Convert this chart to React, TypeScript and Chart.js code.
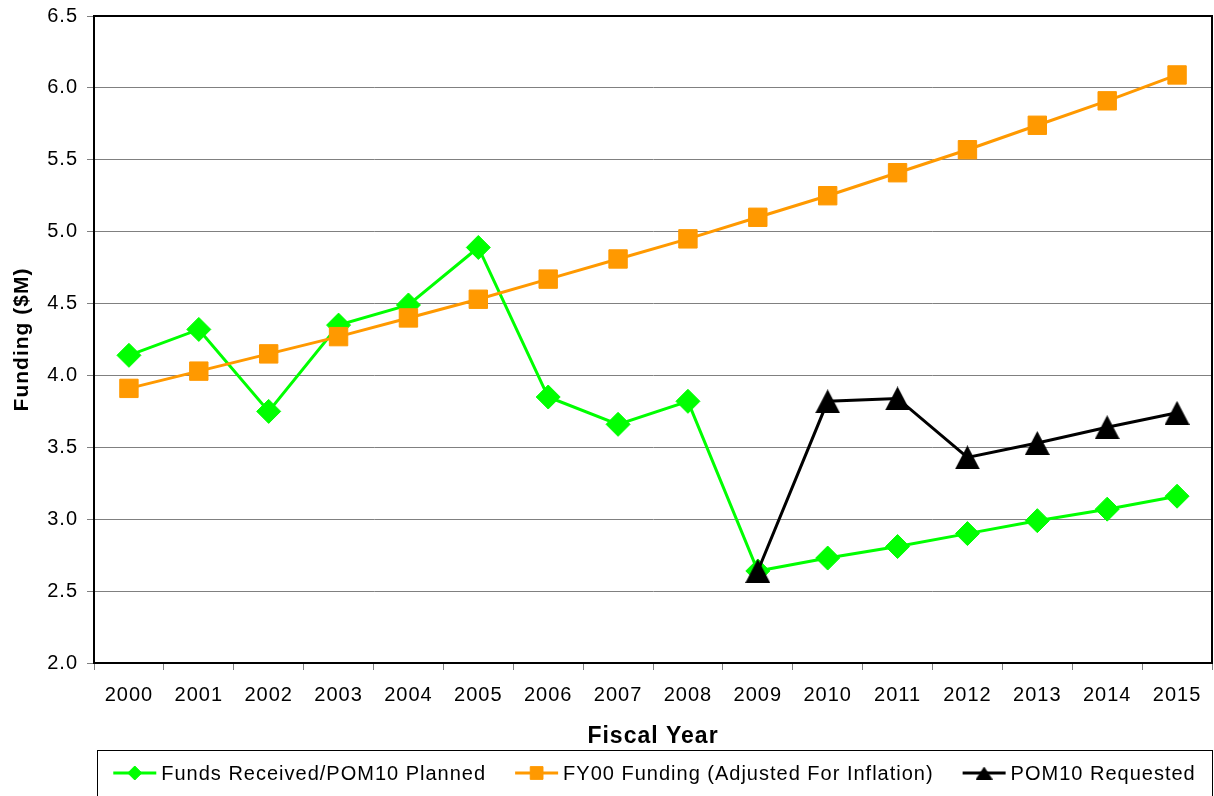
import React, { useEffect, useRef } from "react";
import { Chart, registerables } from "chart.js";
import { drawPoint } from "chart.js/helpers";

Chart.register(...registerables);

const years = ["2000", "2001", "2002", "2003", "2004", "2005", "2006", "2007", "2008", "2009", "2010", "2011", "2012", "2013", "2014", "2015"];
const fundsReceived = [4.14, 4.32, 3.75, 4.35, 4.49, 4.89, 3.85, 3.66, 3.82, 2.64, 2.73, 2.81, 2.9, 2.99, 3.07, 3.16];
const fy00Funding = [3.91, 4.03, 4.15, 4.27, 4.4, 4.53, 4.67, 4.81, 4.95, 5.1, 5.25, 5.41, 5.57, 5.74, 5.91, 6.09];
const pom10Requested = [null, null, null, null, null, null, null, null, null, 2.64, 3.82, 3.84, 3.43, 3.53, 3.64, 3.74];
const yMin = 2.0;
const yMax = 6.5;
const yStep = 0.5;
const seriesLabels = ["Funds Received/POM10 Planned", "FY00 Funding (Adjusted For Inflation)", "POM10 Requested"];

const FAMILY = "'Liberation Sans', Arial, Helvetica, sans-serif";

function makeTriangle(w: number, h: number, color: string): HTMLCanvasElement {
  const c = document.createElement("canvas");
  c.width = w;
  c.height = h;
  const g = c.getContext("2d")!;
  g.fillStyle = color;
  g.beginPath();
  g.moveTo(w / 2, 0);
  g.lineTo(w, h);
  g.lineTo(0, h);
  g.closePath();
  g.fill();
  return c;
}

const framePlugin = {
  id: "frame",
  beforeDraw(chart: any) {
    chart.ctx.letterSpacing = "1px";
  },
  beforeDatasetsDraw(chart: any) {
    const { ctx, chartArea } = chart;
    ctx.save();
    ctx.strokeStyle = "#000";
    ctx.lineWidth = 2;
    ctx.beginPath();
    ctx.moveTo(chartArea.left, chartArea.top);
    ctx.lineTo(chartArea.right, chartArea.top);
    ctx.lineTo(chartArea.right, chartArea.bottom);
    ctx.stroke();
    ctx.restore();
  },
};

const legendPlugin = {
  id: "boxLegend",
  afterDraw(chart: any) {
    const ctx = chart.ctx;
    ctx.save();
    ctx.letterSpacing = "1px";
    const boxLeft = 97;
    const boxTop = 750;
    const boxRight = 1212;
    ctx.strokeStyle = "#000";
    ctx.lineWidth = 1;
    ctx.strokeRect(boxLeft + 0.5, boxTop + 0.5, boxRight - boxLeft, 80);
    ctx.font = `20px ${FAMILY}`;
    const symW = 43;
    const symGap = 5;
    const gap = 29;
    const ds = chart.data.datasets;
    const widths = ds.map((d: any) => symW + symGap + ctx.measureText(d.label).width);
    const total = widths.reduce((a: number, b: number) => a + b, 0) + gap * (ds.length - 1);
    let x = boxLeft + (boxRight - boxLeft - total) / 2;
    const y = 773;
    ds.forEach((d: any, i: number) => {
      ctx.strokeStyle = d.borderColor;
      ctx.lineWidth = 3;
      ctx.beginPath();
      ctx.moveTo(x, y);
      ctx.lineTo(x + symW, y);
      ctx.stroke();
      ctx.fillStyle = d.pointBackgroundColor;
      ctx.strokeStyle = d.pointBorderColor;
      ctx.lineWidth = 1;
      drawPoint(ctx, { pointStyle: d.legendStyle, radius: d.legendRadius, rotation: 0, borderWidth: 1 } as any, x + symW / 2, y);
      ctx.fillStyle = "#000";
      ctx.textAlign = "left";
      ctx.textBaseline = "middle";
      ctx.fillText(d.label, x + symW + symGap, y + 1);
      x += widths[i] + gap;
    });
    ctx.restore();
  },
};

export default function App() {
  const ref = useRef<HTMLCanvasElement>(null);
  useEffect(() => {
    if (!ref.current) return;
    const tickFont = { family: FAMILY, size: 20 };
    const bigTriangle = makeTriangle(25, 24, "#000000");
    const smallTriangle = makeTriangle(17, 13, "#000000");
    const chart = new Chart(ref.current, {
      type: "line",
      data: {
        labels: years,
        datasets: [
          {
            label: seriesLabels[0],
            data: fundsReceived,
            borderColor: "#00FF00",
            backgroundColor: "#00FF00",
            pointBackgroundColor: "#00FF00",
            pointBorderColor: "#00FF00",
            borderWidth: 3,
            pointStyle: "rectRot",
            pointRadius: 12,
            pointBorderWidth: 1,
            tension: 0,
            order: 3,
            legendStyle: "rectRot",
            legendRadius: 7,
          } as any,
          {
            label: seriesLabels[1],
            data: fy00Funding,
            borderColor: "#FF9900",
            backgroundColor: "#FF9900",
            pointBackgroundColor: "#FF9900",
            pointBorderColor: "#FF9900",
            borderWidth: 3,
            pointStyle: "rect",
            pointRadius: 13,
            pointBorderWidth: 1,
            tension: 0,
            order: 2,
            legendStyle: "rect",
            legendRadius: 9,
          } as any,
          {
            label: seriesLabels[2],
            data: pom10Requested,
            borderColor: "#000000",
            backgroundColor: "#000000",
            pointBackgroundColor: "#000000",
            pointBorderColor: "#000000",
            borderWidth: 3,
            pointStyle: bigTriangle,
            pointRadius: 13,
            pointBorderWidth: 1,
            tension: 0,
            order: 1,
            legendStyle: smallTriangle,
            legendRadius: 8,
          } as any,
        ],
      },
      options: {
        responsive: false,
        animation: false,
        layout: { autoPadding: false, padding: { top: 16, right: 2, bottom: 46, left: 0 } },
        plugins: {
          legend: { display: false },
          tooltip: { enabled: false },
        },
        scales: {
          x: {
            type: "category",
            offset: true,
            grid: { offset: true, drawOnChartArea: false, drawTicks: true, tickLength: 7, tickColor: "#808080" },
            border: { color: "#000", width: 2 },
            ticks: { font: tickFont, color: "#000", padding: 13, maxRotation: 0, autoSkip: false },
            title: {
              display: true,
              text: "Fiscal Year",
              color: "#000",
              font: { family: FAMILY, size: 23, weight: "bold" },
              padding: { top: 0, bottom: 0 },
            },
            afterFit(s: any) {
              s.height = 87;
              s.paddingLeft = 0;
              s.paddingRight = 0;
            },
          },
          y: {
            min: yMin,
            max: yMax,
            ticks: {
              stepSize: yStep,
              font: tickFont,
              color: "#000",
              padding: 9,
              callback: (v: any) => Number(v).toFixed(1),
            },
            grid: { color: "#808080", lineWidth: 1, tickLength: 7, tickColor: "#808080" },
            border: { color: "#000", width: 2 },
            title: {
              display: true,
              text: "Funding ($M)",
              color: "#000",
              font: { family: FAMILY, size: 21, weight: "bold" },
              padding: { top: 10, bottom: 0 },
            },
            afterFit(s: any) {
              s.width = 94;
              s.paddingTop = 0;
              s.paddingBottom = 0;
            },
          },
        },
      } as any,
      plugins: [framePlugin, legendPlugin],
    });
    return () => chart.destroy();
  }, []);
  return (
    <div style={{ position: "absolute", left: 0, top: 0, width: 1214, height: 796, background: "#fff" }}>
      <canvas ref={ref} width={1214} height={796} style={{ display: "block" }} />
    </div>
  );
}
